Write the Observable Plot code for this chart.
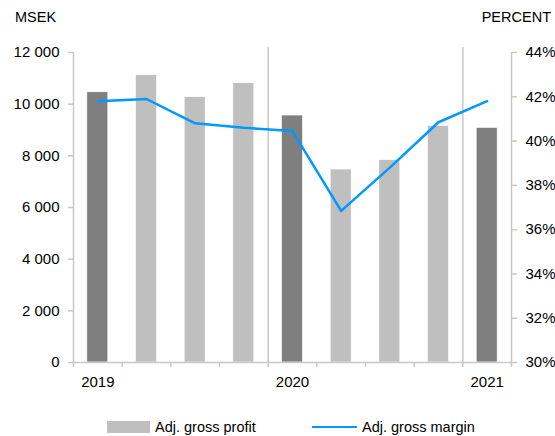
<!DOCTYPE html>
<html>
<head>
<meta charset="utf-8">
<script src="https://cdn.jsdelivr.net/npm/d3@7"></script>
<script src="https://cdn.jsdelivr.net/npm/@observablehq/plot@0.6"></script>
<style>
  body { margin: 0; background: #fff; font-family: "Liberation Sans", Arial, sans-serif; }
  #wrap { position: relative; width: 555px; height: 436px; overflow: hidden; }
  .title { position: absolute; top: 9px; font-size: 14.5px; color: #000; }
  #legend { position: absolute; top: 419px; left: 0; width: 555px; height: 17px; font-size: 14.5px; color: #000; }
  .lg { position: absolute; top: 0; display: flex; align-items: center; }
</style>
</head>
<body>
<div id="wrap">
  <div class="title" style="left:15px">MSEK</div>
  <div class="title" style="right:4px">PERCENT</div>
  <div id="chart" style="position:absolute;top:35px;left:0"></div>
  <div id="legend">
    <div class="lg" style="left:107px"><span style="display:inline-block;width:43px;height:12px;background:#BFBFBF;margin-right:5px"></span><span>Adj. gross profit</span></div>
    <div class="lg" style="left:312px"><span style="display:inline-block;width:45px;height:2.5px;background:#0099FF;margin-right:5px"></span><span>Adj. gross margin</span></div>
  </div>
</div>
<script>
// Data
const quarters = ["2019 Q1","2019 Q2","2019 Q3","2019 Q4","2020 Q1","2020 Q2","2020 Q3","2020 Q4","2021 Q1"];
const profit = [10460, 11120, 10270, 10810, 9560, 7470, 7830, 9160, 9080];   // MSEK
const margin = [41.8, 41.9, 40.8, 40.6, 40.45, 36.85, 38.8, 40.85, 41.8];   // percent
const yearLabels = ["2019", "2020", "2021"];
const yearStartIndex = [0, 4, 8];
const leftTicks = [0, 2000, 4000, 6000, 8000, 10000, 12000];
const rightTicks = [30, 32, 34, 36, 38, 40, 42, 44];

const yMax = 12000, pMin = 30, pMax = 44;
const toLeft = p => (p - pMin) / (pMax - pMin) * yMax;
const fromLeft = v => pMin + v / yMax * (pMax - pMin);

const data = quarters.map((q, i) => ({
  q, i, profit: profit[i], margin: margin[i],
  dark: q.endsWith("Q1")
}));

const fmt = v => d3.format(",")(v).replace(/,/g, " ");
const axisColor = "#C8C8C8";

const chart = Plot.plot({
  width: 555,
  height: 375,
  marginTop: 17,
  marginBottom: 48,
  marginLeft: 73,
  marginRight: 44,
  style: { fontFamily: "Liberation Sans, Arial, sans-serif", fontSize: "15px", color: "#000", background: "transparent" },
  x: { type: "linear", domain: [0, quarters.length] },
  y: { domain: [0, yMax] },
  marks: [
    // year dividers
    Plot.ruleX(yearStartIndex.slice(1), { y1: 0, y2: yMax * 1.016, stroke: axisColor, strokeWidth: 1.5, clip: false }),
    // bars
    Plot.rectY(data, {
      x1: d => d.i + 0.285, x2: d => d.i + 0.715, y: "profit",
      fill: d => d.dark ? "#7F7F7F" : "#BFBFBF",
      stroke: "#fff", strokeWidth: 0.6
    }),
    // axis lines
    Plot.ruleX([0, quarters.length], { y1: 0, y2: yMax, stroke: axisColor, strokeWidth: 1.5 }),
    Plot.ruleY([0], { stroke: axisColor, strokeWidth: 1.5 }),
    // margin line
    Plot.line(data, { x: d => d.i + 0.5, y: d => toLeft(d.margin), stroke: "#0099FF", strokeWidth: 2.5 }),
    // left axis
    Plot.axisY({ anchor: "left", ticks: leftTicks, tickFormat: fmt, tickSize: 5, tickPadding: 9, stroke: axisColor, strokeWidth: 1.5, color: "#000", label: null }),
    // right axis
    Plot.axisY({ anchor: "right", ticks: rightTicks.map(toLeft), tickFormat: v => Math.round(fromLeft(v)) + "%", tickSize: 5, tickPadding: 9, stroke: axisColor, strokeWidth: 1.5, label: null }),
    // x boundary ticks
    Plot.axisX({ ticks: d3.range(quarters.length + 1), tickFormat: () => "", tickSize: 5, stroke: axisColor, strokeWidth: 1.5, label: null }),
    // year labels
    Plot.axisX({ ticks: yearStartIndex.map(i => i + 0.5), tickFormat: (v, k) => yearLabels[k], tickSize: 0, tickPadding: 14, label: null })
  ]
});
document.getElementById("chart").appendChild(chart);
</script>
</body>
</html>
